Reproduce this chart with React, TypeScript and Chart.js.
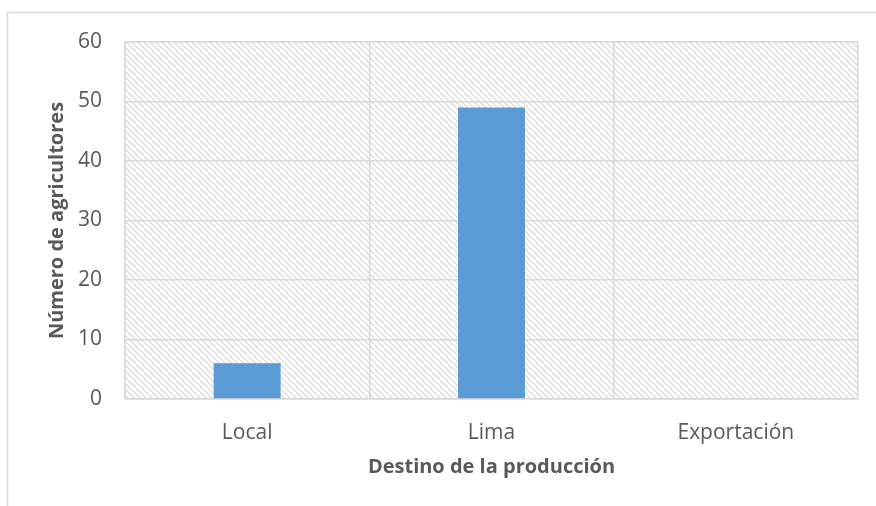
import React, { useEffect, useRef } from "react";
import { Chart, registerables } from "chart.js";

Chart.register(...registerables);

const categories = ["Local", "Lima", "Exportación"];
const values = [6, 49, 0];
const yMin = 0;
const yMax = 60;
const yStep = 10;
const xTitle = "Destino de la producción";
const yTitle = "Número de agricultores";

const FONT = "'Open Sans', 'DejaVu Sans', sans-serif";
const GRID = "#d9d9d9";
const TEXT = "#595959";

function makeHatch(): CanvasPattern | string {
  const s = 6;
  const c = document.createElement("canvas");
  c.width = s;
  c.height = s;
  const g = c.getContext("2d");
  if (!g) return "#ffffff";
  g.fillStyle = "#ffffff";
  g.fillRect(0, 0, s, s);
  g.strokeStyle = "#d6d6d6";
  g.lineWidth = 1.1;
  g.beginPath();
  g.moveTo(-1, -1);
  g.lineTo(s + 1, s + 1);
  g.moveTo(-1, s - 1);
  g.lineTo(1, s + 1);
  g.moveTo(s - 1, -1);
  g.lineTo(s + 1, 1);
  g.stroke();
  const p = g.createPattern(c, "repeat");
  return p || "#ffffff";
}

const framePlugin = {
  id: "frameAndHatch",
  beforeDraw(chart: any) {
    const { ctx, chartArea } = chart;
    ctx.save();
    ctx.fillStyle = "#ffffff";
    ctx.fillRect(0, 0, chart.width, chart.height);
    ctx.strokeStyle = GRID;
    ctx.lineWidth = 1.5;
    ctx.strokeRect(7.5, 12.5, chart.width + 20, chart.height + 20);
    ctx.fillStyle = makeHatch();
    ctx.fillRect(chartArea.left, chartArea.top, chartArea.right - chartArea.left, chartArea.bottom - chartArea.top);
    ctx.restore();
  },
};

export default function App() {
  const ref = useRef<HTMLCanvasElement | null>(null);
  useEffect(() => {
    document.body.style.margin = "0";
    const canvas = ref.current;
    if (!canvas) return;
    const chart = new Chart(canvas, {
      type: "bar",
      data: {
        labels: categories,
        datasets: [
          {
            data: values,
            backgroundColor: "#5b9bd5",
            borderWidth: 0,
            barPercentage: 0.274,
            categoryPercentage: 1,
          },
        ],
      },
      options: {
        responsive: false,
        animation: false,
        layout: { padding: { left: 8, top: 42, right: 18, bottom: 0 } },
        plugins: {
          legend: { display: false },
          tooltip: { enabled: false },
        },
        scales: {
          x: {
            grid: { color: GRID, lineWidth: 1.5, drawTicks: false, offset: true },
            border: { color: GRID, width: 1.5 },
            ticks: { color: TEXT, font: { family: FONT, size: 21 }, padding: 21 },
            title: {
              display: true,
              text: xTitle,
              color: TEXT,
              font: { family: FONT, size: 20, weight: "bold" },
              padding: { top: 0, bottom: 27 },
            },
            afterFit(scale: any) {
              scale.height = 107;
            },
          },
          y: {
            min: yMin,
            max: yMax,
            grid: { color: GRID, lineWidth: 1.5, drawTicks: false },
            border: { color: GRID, width: 1.5 },
            ticks: { stepSize: yStep, color: TEXT, font: { family: FONT, size: 21 }, padding: 23 },
            title: {
              display: true,
              text: yTitle,
              color: TEXT,
              font: { family: FONT, size: 20, weight: "bold" },
              padding: { top: 37, bottom: 0 },
            },
            afterFit(scale: any) {
              scale.width = 117;
            },
          },
        },
      },
      plugins: [framePlugin],
    });
    return () => chart.destroy();
  }, []);
  return <canvas ref={ref} width={876} height={506} style={{ display: "block" }} />;
}
